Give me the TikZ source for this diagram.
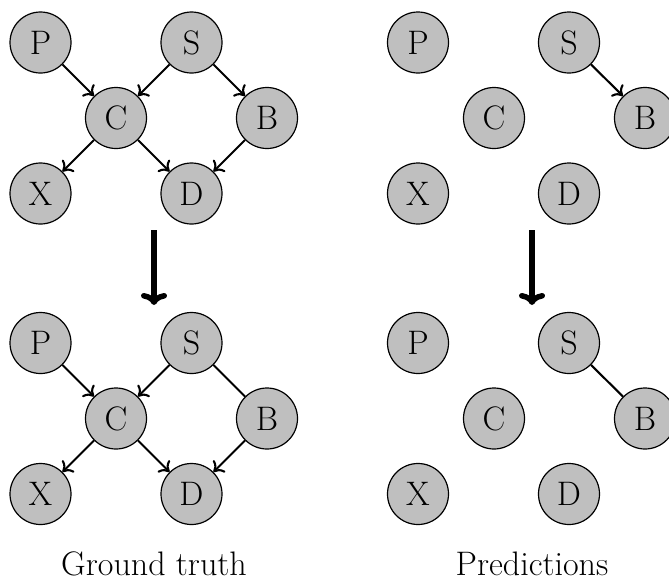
\documentclass[tikz,border=0pt]{standalone}
\usetikzlibrary{arrows.meta}
\begin{document}
\begin{tikzpicture}[x=1pt,y=-1pt,
  var/.style={circle,draw,fill=black!25,line width=1.2pt,minimum size=61pt,inner sep=0pt,font=\fontsize{34}{40}\selectfont},
  dir/.style={-{To[length=9pt,width=17pt]},line width=2.1pt},
  undir/.style={line width=2.1pt},
  bigarrow/.style={-{To[length=12pt,width=26pt]},line width=5.5pt},
  caption/.style={font=\fontsize{34}{40}\selectfont,anchor=base,inner sep=0pt}]
\useasboundingbox (0,0) rectangle (669,584);
% top left
\node[var] (P1) at (40.5,42.5) {P};
\node[var] (S1) at (191.5,42.5) {S};
\node[var] (C1) at (116,118) {C};
\node[var] (B1) at (267,118) {B};
\node[var] (X1) at (40.5,193.5) {X};
\node[var] (D1) at (191.5,193.5) {D};
\draw[dir] (P1) -- (C1);
\draw[dir] (S1) -- (C1);
\draw[dir] (S1) -- (B1);
\draw[dir] (C1) -- (X1);
\draw[dir] (C1) -- (D1);
\draw[dir] (B1) -- (D1);
% bottom left
\node[var] (P2) at (40.5,343) {P};
\node[var] (S2) at (191.5,343) {S};
\node[var] (C2) at (116,418.5) {C};
\node[var] (B2) at (267,418.5) {B};
\node[var] (X2) at (40.5,494) {X};
\node[var] (D2) at (191.5,494) {D};
\draw[dir] (P2) -- (C2);
\draw[dir] (S2) -- (C2);
\draw[undir] (S2) -- (B2);
\draw[dir] (C2) -- (X2);
\draw[dir] (C2) -- (D2);
\draw[dir] (B2) -- (D2);
% top right
\node[var] (P3) at (418,42.5) {P};
\node[var] (S3) at (569,42.5) {S};
\node[var] (C3) at (494,118) {C};
\node[var] (B3) at (645,118) {B};
\node[var] (X3) at (418,193.5) {X};
\node[var] (D3) at (569,193.5) {D};
\draw[dir] (S3) -- (B3);
% bottom right
\node[var] (P4) at (418,343) {P};
\node[var] (S4) at (569,343) {S};
\node[var] (C4) at (494,418.5) {C};
\node[var] (B4) at (645,418.5) {B};
\node[var] (X4) at (418,494) {X};
\node[var] (D4) at (569,494) {D};
\draw[undir] (S4) -- (B4);
% big arrows
\coordinate (La) at (154,230);
\coordinate (Lb) at (154,305);
\coordinate (Ra) at (532,230);
\coordinate (Rb) at (532,305);
\draw[bigarrow] (La) -- (Lb);
\draw[bigarrow] (Ra) -- (Rb);
% captions
\node[caption] (gt) at (154,575) {Ground truth};
\node[caption] (pr) at (532,575) {Predictions};
\end{tikzpicture}
\end{document}
